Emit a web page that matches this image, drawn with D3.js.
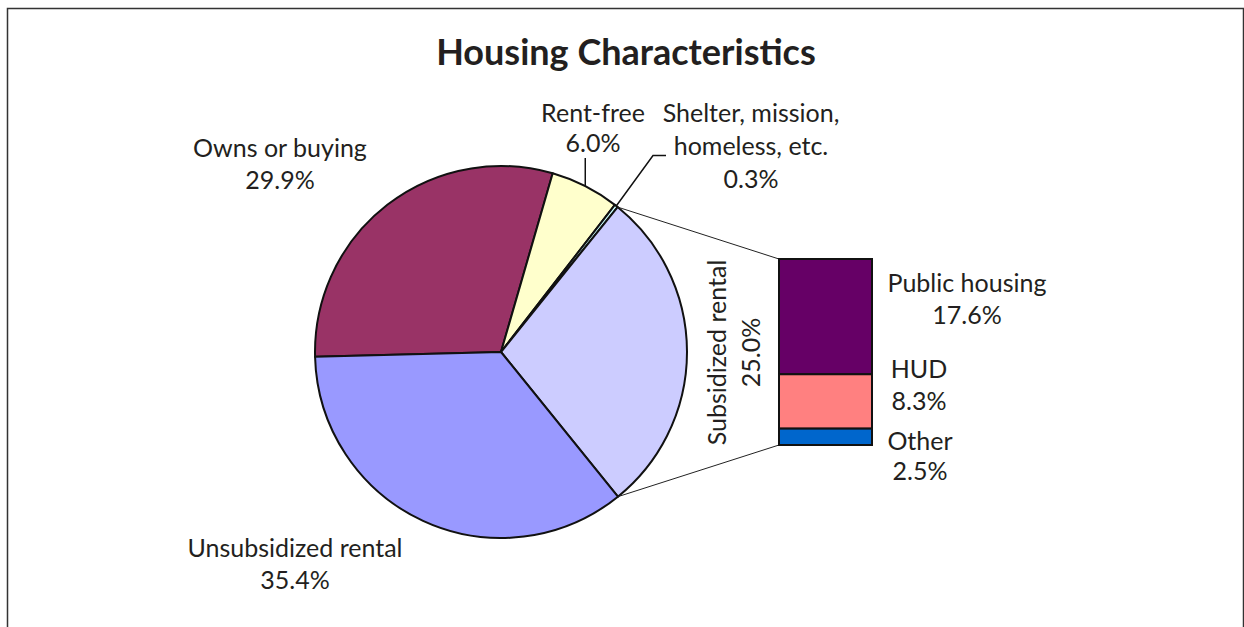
<!DOCTYPE html>
<html>
<head>
<meta charset="UTF-8">
<title>Housing Characteristics</title>
<script src="https://cdn.jsdelivr.net/npm/d3@7"></script>
<style>
  body { margin: 0; background: #fff; }
  text { font-family: Lato, "Open Sans", sans-serif; fill: #231f20; }
</style>
</head>
<body>
<div id="chart"></div>
<script>
    // data
    var sliceNames = ["Owns or buying", "Rent-free", "Shelter, mission, homeless, etc.", "Subsidized rental", "Unsubsidized rental"];
    var sliceValues = [29.9, 6.0, 0.3, 28.4, 35.4];
    var sliceLabels = ["29.9%", "6.0%", "0.3%", "25.0%", "35.4%"];
    var sliceColors = ["#993366", "#ffffcc", "#ccffff", "#ccccff", "#9999ff"];

    var subNames = ["Public housing", "HUD", "Other"];
    var subValues = [17.6, 8.3, 2.5];
    var subLabels = ["17.6%", "8.3%", "2.5%"];
    var subColors = ["#660066", "#ff8080", "#0066cc"];

    var width = 1244, height = 627;
    var cx = 501, cy = 352, r = 186;
    var fs = 25;

    var svg = d3.select("#chart").append("svg")
        .attr("width", width)
        .attr("height", height);

    // frame
    svg.append("rect")
        .attr("x", 7.5).attr("y", 8.5)
        .attr("width", 1236).attr("height", 640)
        .attr("fill", "none")
        .attr("stroke", "#333")
        .attr("stroke-width", 1.5);

    svg.append("text")
        .attr("x", 626).attr("y", 65)
        .attr("text-anchor", "middle")
        .attr("font-size", 36)
        .attr("font-weight", "bold")
        .text("Housing Characteristics");

    // pie
    var start = -91.5 * Math.PI / 180;
    var pie = d3.pie().sort(null).startAngle(start).endAngle(start + 2 * Math.PI);
    var arcs = pie(sliceValues);
    var arc = d3.arc().innerRadius(0).outerRadius(r);

    var gPie = svg.append("g").attr("transform", "translate(" + cx + "," + cy + ")");
    gPie.selectAll("path")
        .data(arcs)
        .enter().append("path")
        .attr("d", arc)
        .attr("fill", function(d, i) { return sliceColors[i]; })
        .attr("stroke", "#111")
        .attr("stroke-width", 2)
        .attr("stroke-linejoin", "round");

    function edge(a, rr) {
        return [cx + rr * Math.sin(a), cy - rr * Math.cos(a)];
    }

    // bar of pie
    var barX = 779, barW = 93;
    var y = d3.scaleLinear().domain([0, d3.sum(subValues)]).range([259, 445]);
    var stacked = [];
    var acc = 0;
    subValues.forEach(function(v, i) { stacked.push({i: i, y0: acc, y1: acc + v}); acc += v; });

    // connectors
    var sub = arcs[3];
    var p0 = edge(sub.startAngle, r), p1 = edge(sub.endAngle, r);
    svg.append("line")
        .attr("x1", p0[0]).attr("y1", p0[1])
        .attr("x2", barX).attr("y2", y(0))
        .attr("stroke", "#222").attr("stroke-width", 1);
    svg.append("line")
        .attr("x1", p1[0]).attr("y1", p1[1])
        .attr("x2", barX).attr("y2", y(acc))
        .attr("stroke", "#222").attr("stroke-width", 1);

    svg.append("g").selectAll("rect")
        .data(stacked)
        .enter().append("rect")
        .attr("x", barX)
        .attr("y", function(d) { return y(d.y0); })
        .attr("width", barW)
        .attr("height", function(d) { return y(d.y1) - y(d.y0); })
        .attr("fill", function(d) { return subColors[d.i]; })
        .attr("stroke", "#111")
        .attr("stroke-width", 2);

    // labels
    function label(lines, x, y0, lh, anchor) {
        var t = svg.append("text")
            .attr("text-anchor", anchor || "middle")
            .attr("font-size", fs);
        lines.forEach(function(s, k) {
            t.append("tspan").attr("x", x).attr("y", y0 + k * lh).text(s);
        });
    }

    label([sliceNames[0], sliceLabels[0]], 280, 157, 32);
    label([sliceNames[1], sliceLabels[1]], 593, 122, 30);
    label(["Shelter, mission,", "homeless, etc.", sliceLabels[2]], 751, 122, 33);
    label([sliceNames[4], sliceLabels[4]], 295, 557, 32);

    // rotated label for subsidized slice
    [sliceNames[3], sliceLabels[3]].forEach(function(s, k) {
        svg.append("text")
            .attr("transform", "translate(" + (726 + k * 34) + ",352.5) rotate(-90)")
            .attr("text-anchor", "middle")
            .attr("font-size", fs)
            .text(s);
    });

    label([subNames[0], subLabels[0]], 967, 292, 32);
    label([subNames[1], subLabels[1]], 919, 378, 32);
    label([subNames[2], subLabels[2]], 920, 450, 30);

    // leader lines
    var rf = arcs[1], sh = arcs[2];
    var a1 = edge((rf.startAngle + rf.endAngle) / 2, r);
    svg.append("path")
        .attr("d", "M" + a1[0] + "," + a1[1] + "V158")
        .attr("fill", "none").attr("stroke", "#111").attr("stroke-width", 1.5);
    var a2 = edge((sh.startAngle + sh.endAngle) / 2, r);
    svg.append("path")
        .attr("d", "M" + a2[0] + "," + a2[1] + "L653,155.5H666")
        .attr("fill", "none").attr("stroke", "#111").attr("stroke-width", 1.5);
</script>
</body>
</html>
